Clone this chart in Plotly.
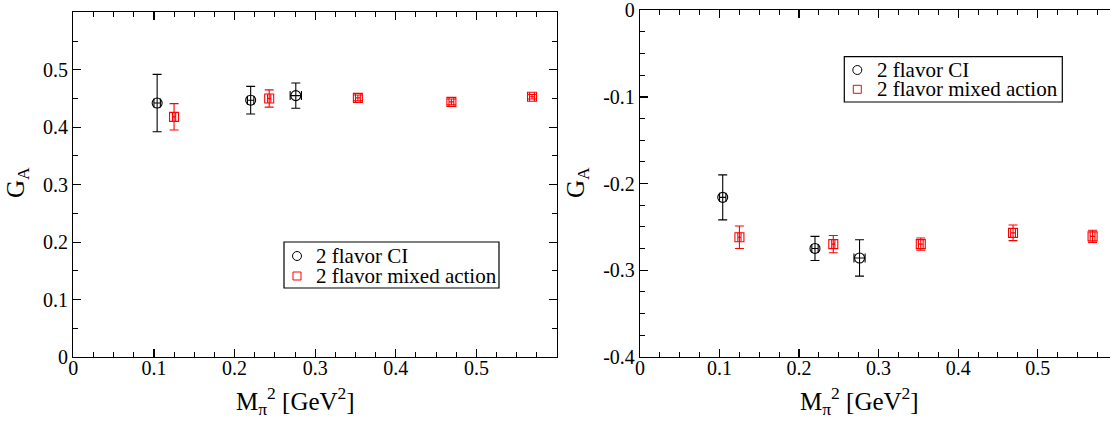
import plotly.graph_objects as go

W, H = 1110, 425

# ---------------- data ----------------
ci_x = [0.104, 0.220, 0.276]
ci_xerr = [0.004, 0.004, 0.007]
ma_x = [0.125, 0.243, 0.353, 0.469, 0.569]
ma_xerr = [0.002, 0.002, 0.003, 0.003, 0.003]

left_ci_y = [0.442, 0.447, 0.455]
left_ci_err = [0.050, 0.024, 0.022]
left_ma_y = [0.418, 0.450, 0.451, 0.444, 0.453]
left_ma_err = [0.023, 0.015, 0.005, 0.005, 0.004]

right_ci_y = [-0.216, -0.275, -0.286]
right_ci_err = [0.026, 0.014, 0.021]
right_ma_y = [-0.262, -0.270, -0.270, -0.257, -0.261]
right_ma_err = [0.013, 0.010, 0.007, 0.009, 0.007]

x_tickvals = [0, 0.1, 0.2, 0.3, 0.4, 0.5]
x_ticktext = ["0", "0.1", "0.2", "0.3", "0.4", "0.5"]
left_y_tickvals = [0, 0.1, 0.2, 0.3, 0.4, 0.5]
left_y_ticktext = ["0", "0.1", "0.2", "0.3", "0.4", "0.5"]
right_y_tickvals = [-0.4, -0.3, -0.2, -0.1, 0]
right_y_ticktext = ["-0.4", "-0.3", "-0.2", "-0.1", "0"]

legend_labels = ["2 flavor CI", "2 flavor mixed action"]
x_title = "M<sub>π</sub><sup>2</sup> [GeV<sup>2</sup>]"
y_title = "G<sub>A</sub>"

FONT = "Liberation Serif"
BLACK = "black"
RED = "#ff0000"

fig = go.Figure()


def add_series(xa, ya, xs, xe, ys, ye, color, symbol, size):
    fig.add_trace(go.Scatter(
        x=xs, y=ys, mode="markers", xaxis=xa, yaxis=ya, showlegend=False,
        marker=dict(symbol=symbol, size=size, color=color, line=dict(color=color, width=1.1)),
        error_y=dict(type="data", array=ye, visible=True, color=color, thickness=1.1, width=4.5),
        error_x=dict(type="data", array=xe, visible=True, color=color, thickness=1.1, width=4.5),
    ))


add_series("x", "y", ci_x, ci_xerr, left_ci_y, left_ci_err, BLACK, "circle-open", 10)
add_series("x", "y", ma_x, ma_xerr, left_ma_y, left_ma_err, RED, "square-open", 9)
add_series("x2", "y2", ci_x, ci_xerr, right_ci_y, right_ci_err, BLACK, "circle-open", 10)
add_series("x2", "y2", ma_x, ma_xerr, right_ma_y, right_ma_err, RED, "square-open", 9)


def px_x(p):
    return p / W


def px_y(p):
    return (H - p) / H


tickfont = dict(family=FONT, size=20, color=BLACK)
common = dict(showgrid=False, zeroline=False, showline=True, linecolor=BLACK, linewidth=1.2,
              ticks="inside", ticklen=8, tickwidth=1.2, tickcolor=BLACK, mirror="ticks",
              tickfont=tickfont, ticklabeloverflow="allow", automargin=False,
              minor=dict(ticks="inside", ticklen=5, tickwidth=1, tickcolor=BLACK, dtick=0.025))
common_x = {**common, "ticklabelstandoff": -7}

fig.update_layout(
    width=W, height=H, margin=dict(l=0, r=0, t=0, b=0, pad=0, autoexpand=False),
    paper_bgcolor="white", plot_bgcolor="white", showlegend=False,
    xaxis=dict(domain=[px_x(73.3), px_x(557)], range=[0, 0.6], anchor="y",
               tickvals=x_tickvals, ticktext=x_ticktext, **common_x),
    yaxis=dict(domain=[px_y(357), px_y(12.3)], range=[0, 0.6], anchor="x",
               tickvals=left_y_tickvals, ticktext=left_y_ticktext,
               **{**common, "minor": dict(ticks="inside", ticklen=5, tickwidth=1,
                                          tickcolor=BLACK, dtick=0.05)}),
    xaxis2=dict(domain=[px_x(640), 1.0], range=[0, (1110 - 640) / 795.4], anchor="y2",
                tickvals=x_tickvals, ticktext=x_ticktext, **common_x),
    yaxis2=dict(domain=[px_y(356.7), px_y(10.3)], range=[-0.4, 0], anchor="x2",
                tickvals=right_y_tickvals, ticktext=right_y_ticktext,
                **{**common, "mirror": False}),
)

title_font = dict(family=FONT, size=25, color=BLACK)
annotations = [
    dict(text=x_title, x=px_x(295), y=px_y(401), xref="paper", yref="paper",
         xanchor="center", yanchor="middle", showarrow=False, font=title_font),
    dict(text=x_title, x=px_x(859), y=px_y(401), xref="paper", yref="paper",
         xanchor="center", yanchor="middle", showarrow=False, font=title_font),
    dict(text=y_title, x=px_x(18), y=px_y(183), xref="paper", yref="paper",
         xanchor="center", yanchor="middle", showarrow=False, font=title_font, textangle=-90),
    dict(text=y_title, x=px_x(578), y=px_y(183), xref="paper", yref="paper",
         xanchor="center", yanchor="middle", showarrow=False, font=title_font, textangle=-90),
]

shapes = []
legend_font = dict(family=FONT, size=21, color=BLACK)
# legend boxes: (x0, y0, x1, y1, marker_x, row1_y, row2_y, text_x) in pixels
legend_boxes = [(284, 242, 499, 288, 297, 256, 276, 314),
                (844.3, 56.7, 1062.3, 102, 857.3, 70, 89.3, 875)]
for (bx0, by0, bx1, by1, mx, r1, r2, tx) in legend_boxes:
    shapes.append(dict(type="rect", xref="paper", yref="paper",
                       x0=px_x(bx0), x1=px_x(bx1), y0=px_y(by1), y1=px_y(by0),
                       line=dict(color=BLACK, width=1.2), fillcolor="white", layer="above"))
    shapes.append(dict(type="circle", xref="paper", yref="paper",
                       x0=px_x(mx - 4.5), x1=px_x(mx + 4.5), y0=px_y(r1 + 4.5), y1=px_y(r1 - 4.5),
                       line=dict(color=BLACK, width=1), layer="above"))
    shapes.append(dict(type="rect", xref="paper", yref="paper",
                       x0=px_x(mx - 4), x1=px_x(mx + 4), y0=px_y(r2 + 4), y1=px_y(r2 - 4),
                       line=dict(color=RED, width=1), layer="above"))
    for lab, ry in zip(legend_labels, [r1, r2]):
        annotations.append(dict(text=lab, x=px_x(tx), y=px_y(ry), xref="paper", yref="paper",
                                xanchor="left", yanchor="middle", showarrow=False,
                                font=legend_font))

fig.update_layout(annotations=annotations, shapes=shapes)

post = (
    "var gd=document.getElementById('{plot_id}');"
    "var r=document.documentElement,b=document.body;"
    "[r,b].forEach(function(e){e.style.margin='0';e.style.padding='0';"
    "e.style.overflow='hidden';e.style.height='425px';});"
    "if(gd&&gd.parentElement){gd.parentElement.style.height='425px';"
    "gd.parentElement.style.overflow='hidden';}"
)
fig.write_html("out.html", config={"displayModeBar": False, "staticPlot": True},
               post_script=post)
